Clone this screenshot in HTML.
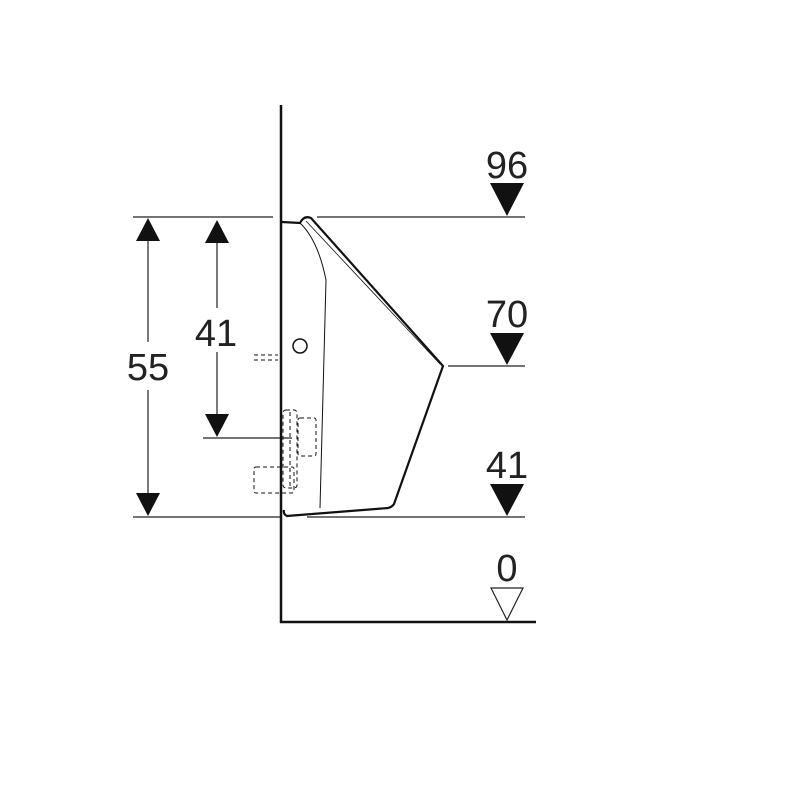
<!DOCTYPE html><html><head><style>body{margin:0;background:#fff}svg{display:block}text{font-family:"Liberation Sans",sans-serif;fill:#222}</style></head><body>
<svg width="800" height="800" viewBox="0 0 800 800">
<g stroke="#222" stroke-width="1.2" fill="none">
<line x1="133" y1="217" x2="273" y2="217"/><line x1="317" y1="217" x2="525" y2="217"/>
<line x1="448" y1="366" x2="525" y2="366"/>
<line x1="133" y1="517" x2="280" y2="517"/><line x1="307" y1="517" x2="525" y2="517"/>
<line x1="203" y1="438" x2="292" y2="438"/>
<line x1="148" y1="240" x2="148" y2="342"/><line x1="148" y1="390" x2="148" y2="495"/>
<line x1="217" y1="240" x2="217" y2="308"/><line x1="217" y1="352" x2="217" y2="416"/>
</g>
<g fill="#111">
<polygon points="148,218 136,241 160,241"/><polygon points="148,516 136,493 160,493"/>
<polygon points="217,220 205,243 229,243"/><polygon points="217,437 205,414 229,414"/>
<polygon points="490,183 524,183 507,216"/><polygon points="490,333 524,333 507,365"/><polygon points="490,484 524,484 507,516"/>
</g>
<polygon points="491,588 523,588 507,620" fill="none" stroke="#222" stroke-width="1.2"/>
<line x1="281" y1="105" x2="281" y2="623" stroke="#111" stroke-width="2.5"/>
<line x1="280" y1="622" x2="536" y2="622" stroke="#111" stroke-width="2.5"/>
<g stroke="#111" fill="none">
<path d="M282,222 L300,223 Q304,215 311,218 L443,366 L394,504 Q392,507 388,508 L287,516 Q283,514 284,510" stroke-width="2.2"/>
<path d="M300,223 Q318,240 326,280 L320,508" stroke-width="1"/>
<path d="M306,221 L440,364" stroke-width="0.8"/>
<circle cx="300" cy="346" r="7" stroke-width="1.5"/>
<g stroke-dasharray="4,3" stroke-width="1">
<line x1="254" y1="355" x2="278" y2="355"/><line x1="254" y1="360" x2="278" y2="360"/>
<rect x="283" y="410" width="14" height="78" rx="3"/>
<line x1="290" y1="412" x2="290" y2="486"/>
<rect x="298" y="418" width="18" height="38" rx="2"/>
<rect x="254" y="467" width="40" height="26" rx="2"/>
</g>
</g>
<g font-size="38" text-anchor="middle">
<text x="148" y="380">55</text><text x="216" y="346">41</text>
<text x="507" y="178">96</text><text x="507" y="327">70</text><text x="507" y="478">41</text><text x="507" y="581">0</text>
</g>
</svg></body></html>
